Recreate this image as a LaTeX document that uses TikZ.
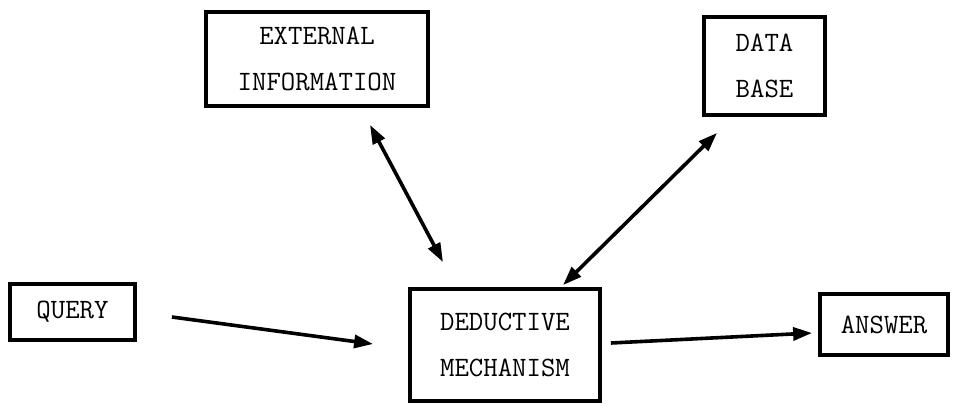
\documentclass[tikz,border=0pt]{standalone}
\usetikzlibrary{arrows.meta}
\begin{document}
\begin{tikzpicture}[x=1pt,y=-1pt,
  boxnode/.style={draw=black, line width=3.8pt, inner sep=2pt, align=center,
    font=\ttfamily\fontsize{28}{46}\selectfont},
  conn/.style={line width=3.6pt, -{Triangle[length=19pt,width=13pt]}},
  dconn/.style={line width=3.6pt, {Triangle[length=19pt,width=13pt]}-{Triangle[length=19pt,width=13pt]}}]
\useasboundingbox (0,0) rectangle (955,405);
\node[boxnode, minimum width=222pt, minimum height=94pt] (ext) at (317,59) {EXTERNAL\\INFORMATION};
\node[boxnode, minimum width=121pt, minimum height=98pt] (db) at (764.5,66) {DATA\\BASE};
\node[boxnode, minimum width=125pt, minimum height=56pt] (query) at (72.5,312) {QUERY};
\node[boxnode, minimum width=190pt, minimum height=112pt] (ded) at (505,345) {DEDUCTIVE\\MECHANISM};
\node[boxnode, minimum width=128pt, minimum height=61pt] (ans) at (884,324.5) {ANSWER};
\draw[dconn] ([xshift=53pt,yshift=-17pt]ext.south) -- ([xshift=-62pt,yshift=25pt]ded.north);
\draw[dconn] ([xshift=-47.5pt,yshift=-16pt]db.south) -- ([xshift=58pt,yshift=2pt]ded.north);
\draw[conn] ([xshift=35pt,yshift=-5pt]query.east) -- ([xshift=-35pt,yshift=1pt]ded.west);
\draw[conn] ([xshift=9pt,yshift=2pt]ded.east) -- ([xshift=-6pt,yshift=-8.5pt]ans.west);
\end{tikzpicture}
\end{document}
